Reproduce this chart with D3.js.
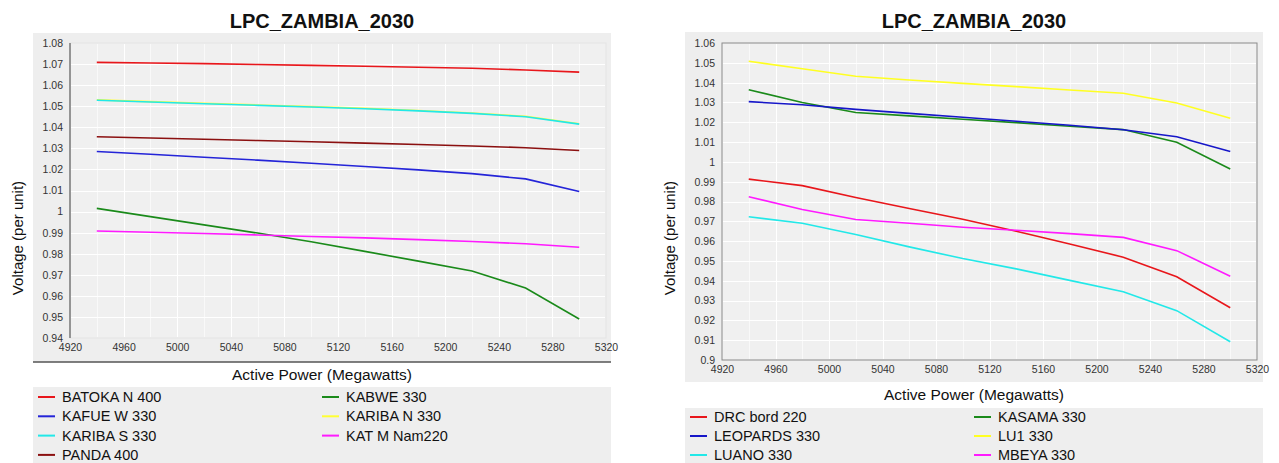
<!DOCTYPE html>
<html>
<head>
<meta charset="utf-8">
<script src="https://cdn.jsdelivr.net/npm/d3@7"></script>
<style>
  body { margin: 0; background: #fff; }
  svg { display: block; font-family: "Liberation Sans", Arial, sans-serif; }
</style>
</head>
<body>
<svg id="chart" width="1279" height="463"></svg>
<script>
// shared x values (MW) and tick labels
const power = [4940, 4980, 5020, 5060, 5100, 5140, 5180, 5220, 5260, 5300];
const xTicks = [4920, 4960, 5000, 5040, 5080, 5120, 5160, 5200, 5240, 5280, 5320];

// left chart
const leftTitle = 'LPC_ZAMBIA_2030';
const leftNames = ['BATOKA N 400', 'KABWE 330', 'KAFUE W 330', 'KARIBA N 330', 'KARIBA S 330', 'KAT M Nam220', 'PANDA 400'];
const leftColors = ['#e8161b', '#1a8a1a', '#2424d8', '#ffff33', '#22e8e8', '#ff1aff', '#8b1010'];
const batoka = [1.0708, 1.0705, 1.0702, 1.0698, 1.0694, 1.0690, 1.0685, 1.0680, 1.0672, 1.0662];
const kabwe = [1.0015, 0.9976, 0.9937, 0.9898, 0.9857, 0.9811, 0.9765, 0.9718, 0.9637, 0.9490];
const kafueW = [1.0285, 1.0272, 1.0258, 1.0244, 1.0229, 1.0214, 1.0198, 1.0180, 1.0155, 1.0095];
const karibaN = [1.0530, 1.0522, 1.0514, 1.0506, 1.0498, 1.0490, 1.0480, 1.0468, 1.0452, 1.0417];
const karibaS = [1.0528, 1.0520, 1.0512, 1.0504, 1.0496, 1.0488, 1.0478, 1.0466, 1.0450, 1.0415];
const katM = [0.9908, 0.9902, 0.9896, 0.9889, 0.9882, 0.9875, 0.9867, 0.9858, 0.9847, 0.9831];
const panda = [1.0355, 1.0349, 1.0343, 1.0337, 1.0331, 1.0325, 1.0318, 1.0311, 1.0303, 1.0290];
const leftYTicks = [0.94, 0.95, 0.96, 0.97, 0.98, 0.99, 1, 1.01, 1.02, 1.03, 1.04, 1.05, 1.06, 1.07, 1.08];

// right chart
const rightTitle = 'LPC_ZAMBIA_2030';
const rightNames = ['DRC bord 220', 'KASAMA 330', 'LEOPARDS 330', 'LU1 330', 'LUANO 330', 'MBEYA 330'];
const rightColors = ['#e8161b', '#1a8a1a', '#1616c8', '#ffff22', '#22e8e8', '#ff1aff'];
const drc = [0.9913, 0.9880, 0.9820, 0.9765, 0.9710, 0.9650, 0.9585, 0.9519, 0.9420, 0.9264];
const kasama = [1.0364, 1.0300, 1.0249, 1.0232, 1.0215, 1.0198, 1.0180, 1.0163, 1.0099, 0.9964];
const leopards = [1.0304, 1.0288, 1.0265, 1.0245, 1.0225, 1.0205, 1.0185, 1.0162, 1.0127, 1.0052];
const lu1 = [1.0508, 1.0470, 1.0432, 1.0413, 1.0396, 1.0380, 1.0363, 1.0346, 1.0297, 1.0220];
const luano = [0.9723, 0.9690, 0.9633, 0.9571, 0.9512, 0.9460, 0.9402, 0.9345, 0.9249, 0.9092];
const mbeya = [0.9824, 0.9760, 0.9709, 0.9690, 0.9670, 0.9655, 0.9638, 0.9619, 0.9552, 0.9423];
const rightYTicks = [0.9, 0.91, 0.92, 0.93, 0.94, 0.95, 0.96, 0.97, 0.98, 0.99, 1, 1.01, 1.02, 1.03, 1.04, 1.05, 1.06];

const svg = d3.select('#chart');

function drawChart(cfg) {
    const g = svg.append('g');
    const x = d3.scaleLinear().domain([4920, 5320]).range([cfg.plot.x0, cfg.plot.x1]);
    const y = d3.scaleLinear().domain(d3.extent(cfg.yTicks)).range([cfg.plot.y1, cfg.plot.y0]);

    // title
    g.append('text')
        .attr('x', cfg.cx).attr('y', 28)
        .attr('text-anchor', 'middle')
        .style('font-size', '20px').style('font-weight', 'bold').style('fill', '#111')
        .text(cfg.title);

    // chart panel
    g.append('rect')
        .attr('x', cfg.panel.x0).attr('y', cfg.panel.y0)
        .attr('width', cfg.panel.x1 - cfg.panel.x0).attr('height', cfg.panel.y1 - cfg.panel.y0)
        .style('fill', '#eeeeee');
    if (cfg.panelLine) {
        g.append('line')
            .attr('x1', cfg.panel.x0).attr('x2', cfg.panel.x1)
            .attr('y1', cfg.panel.y1).attr('y2', cfg.panel.y1)
            .style('stroke', '#555').style('stroke-width', 1.5);
    }

    // plot area
    g.append('rect')
        .attr('x', cfg.plot.x0).attr('y', cfg.plot.y0)
        .attr('width', cfg.plot.x1 - cfg.plot.x0).attr('height', cfg.plot.y1 - cfg.plot.y0)
        .style('fill', '#f0f0f0')
        .style('stroke', cfg.border ? '#8a8a8a' : '#e4e4e4')
        .style('stroke-width', 1);

    // grid
    const grid = g.append('g').style('stroke', '#ffffff').style('stroke-width', 1);
    grid.selectAll('.gy').data(cfg.yTicks.slice(1, -1)).enter().append('line')
        .attr('x1', cfg.plot.x0 + 1).attr('x2', cfg.plot.x1 - 1)
        .attr('y1', d => Math.round(y(d)) + 0.5).attr('y2', d => Math.round(y(d)) + 0.5);
    grid.selectAll('.gx').data(xTicks.slice(1, -1).concat(power)).enter().append('line')
        .attr('y1', cfg.plot.y0 + 1).attr('y2', cfg.plot.y1 - 1)
        .attr('x1', d => Math.round(x(d)) + 0.5).attr('x2', d => Math.round(x(d)) + 0.5)
        .style('stroke-opacity', (d, i) => i < xTicks.length - 2 ? 1 : 0.6);

    // axes
    const yAxis = d3.axisLeft(y).tickValues(cfg.yTicks).tickSize(0).tickPadding(7)
        .tickFormat(d => String(+d.toFixed(2)));
    const xAxis = d3.axisBottom(x).tickValues(xTicks).tickSize(0).tickPadding(6)
        .tickFormat(d3.format('d'));
    const ya = g.append('g').attr('transform', `translate(${cfg.plot.x0},0)`).call(yAxis);
    const xa = g.append('g').attr('transform', `translate(0,${cfg.plot.y1})`).call(xAxis);
    [ya, xa].forEach(a => {
        a.select('.domain').remove();
        a.selectAll('text').style('font-size', '10.5px').style('fill', '#333').style('font-family', 'Liberation Sans, Arial, sans-serif');
    });
    if (!cfg.border) {
        g.append('line')
            .attr('x1', cfg.plot.x0).attr('x2', cfg.plot.x0)
            .attr('y1', cfg.plot.y0).attr('y2', cfg.plot.y1)
            .style('stroke', '#777').style('stroke-width', 1.5);
    }

    // series
    const line = d3.line().x((d, i) => x(power[i])).y(d => y(d));
    g.selectAll('.series').data(cfg.series).enter().append('path')
        .attr('d', d => line(d))
        .style('fill', 'none')
        .style('stroke', (d, i) => cfg.colors[i])
        .style('stroke-width', 1.6);

    // axis titles
    g.append('text')
        .attr('transform', `translate(${cfg.yTitleX},${cfg.yTitleY}) rotate(-90)`)
        .attr('text-anchor', 'middle')
        .style('font-size', '15px').style('fill', '#111')
        .text('Voltage (per unit)');
    g.append('text')
        .attr('x', cfg.cx).attr('y', cfg.xTitleY)
        .attr('text-anchor', 'middle')
        .style('font-size', '15.5px').style('fill', '#111')
        .text('Active Power (Megawatts)');

    // legend
    g.append('rect')
        .attr('x', cfg.panel.x0).attr('y', cfg.legendY)
        .attr('width', cfg.panel.x1 - cfg.panel.x0).attr('height', 463 - cfg.legendY)
        .style('fill', '#eeeeee');
    const items = g.selectAll('.leg').data(cfg.names).enter().append('g')
        .attr('transform', (d, i) => `translate(${cfg.legendCols[i % 2]},${cfg.legendRow0 + Math.floor(i / 2) * cfg.legendStep})`);
    items.append('line')
        .attr('x1', 0).attr('x2', 17).attr('y1', 0).attr('y2', 0)
        .style('stroke', (d, i) => cfg.colors[i]).style('stroke-width', 2);
    items.append('text')
        .attr('x', 24).attr('y', 5)
        .style('font-size', '14.5px').style('fill', '#111')
        .text(d => d);
}

drawChart({
    title: leftTitle, cx: 322,
    panel: { x0: 33, x1: 611, y0: 33, y1: 362 },
    plot: { x0: 70, x1: 606, y0: 43, y1: 338 },
    border: false, panelLine: true,
    yTicks: leftYTicks,
    names: leftNames, colors: leftColors,
    series: [batoka, kabwe, kafueW, karibaN, karibaS, katM, panda],
    yTitleX: 23, yTitleY: 238, xTitleY: 380,
    legendY: 387, legendRow0: 397, legendStep: 19.3, legendCols: [38, 322]
});

drawChart({
    title: rightTitle, cx: 974,
    panel: { x0: 685, x1: 1263, y0: 32, y1: 382 },
    plot: { x0: 722, x1: 1257, y0: 43, y1: 360 },
    border: true, panelLine: false,
    yTicks: rightYTicks,
    names: rightNames, colors: rightColors,
    series: [drc, kasama, leopards, lu1, luano, mbeya],
    yTitleX: 675, yTitleY: 238, xTitleY: 400,
    legendY: 408, legendRow0: 417, legendStep: 19, legendCols: [690, 974]
});
</script>
</body>
</html>
